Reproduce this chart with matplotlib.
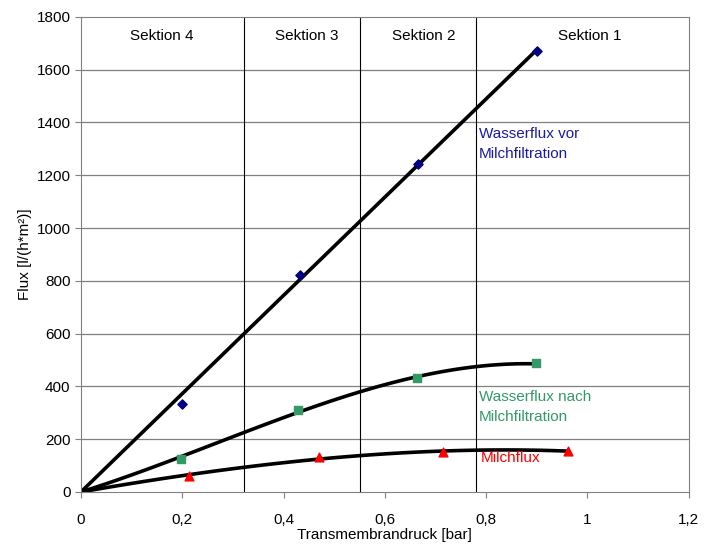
import numpy as np
import matplotlib
matplotlib.use("Agg")
import matplotlib.pyplot as plt

plt.rcParams['font.family'] = ['Liberation Sans', 'DejaVu Sans']

# Messwerte
tmp_vor = [0.199, 0.432, 0.665, 0.900]
flux_vor = [335, 822, 1243, 1671]
tmp_nach = [0.197, 0.428, 0.663, 0.898]
flux_nach = [126, 311, 430, 487]
tmp_milch = [0.213, 0.470, 0.715, 0.961]
flux_milch = [60, 132, 150, 156]

sektionen = ['Sektion 4', 'Sektion 3', 'Sektion 2', 'Sektion 1']
sektion_grenzen = [0.321, 0.551, 0.781]
sektion_mitte = [0.16, 0.446, 0.677, 1.005]


def trend(x, y, grad):
    # Trendlinie durch den Ursprung (wie Excel)
    x = np.asarray(x)
    A = np.column_stack([x ** k for k in range(1, grad + 1)])
    c = np.linalg.lstsq(A, np.asarray(y), rcond=None)[0]
    xs = np.linspace(0, x.max(), 100)
    ys = sum(c[k] * xs ** (k + 1) for k in range(grad))
    return xs, ys


fig = plt.figure(figsize=(7.1, 5.46), dpi=100)
ax = fig.add_axes([0.114, 0.099, 0.856, 0.870])

for yv in range(200, 1800, 200):
    ax.axhline(yv, color='#808080', lw=0.9, zorder=1)
for xv in sektion_grenzen:
    ax.axvline(xv, color='black', lw=0.8, zorder=1)

for x, y, g in [(tmp_vor, flux_vor, 1), (tmp_nach, flux_nach, 3), (tmp_milch, flux_milch, 3)]:
    xs, ys = trend(x, y, g)
    ax.plot(xs, ys, color='black', lw=2.6, zorder=2)

ax.scatter(tmp_vor, flux_vor, marker='D', s=22, color='#000080', zorder=3)
ax.scatter(tmp_nach, flux_nach, marker='s', s=30, color='#339966', zorder=3)
ax.scatter(tmp_milch, flux_milch, marker='^', s=40, color='#ff0000', zorder=3)

for name, xm in zip(sektionen, sektion_mitte):
    ax.text(xm, 1728, name, ha='center', va='center', fontsize=11)

ax.text(0.786, 1318, 'Wasserflux vor\nMilchfiltration', color='#1a1aa6',
        fontsize=11, va='center', linespacing=1.5)
ax.text(0.786, 322, 'Wasserflux nach\nMilchfiltration', color='#339966',
        fontsize=11, va='center', linespacing=1.5)
ax.text(0.79, 128, 'Milchflux', color='#ff0000', fontsize=11, va='center')

ax.set_xlim(0, 1.2)
ax.set_ylim(0, 1800)
ax.set_xticks(np.arange(0, 1.21, 0.2))
ax.set_xticklabels(['0', '0,2', '0,4', '0,6', '0,8', '1', '1,2'])
ax.set_yticks(range(0, 1801, 200))
ax.tick_params(direction='out', length=4, labelsize=11, color='#808080')
ax.tick_params(axis='x', pad=11)
for s in ax.spines.values():
    s.set_color('#808080')
ax.set_xlabel('Transmembrandruck [bar]', fontsize=11, labelpad=1)
ax.set_ylabel('Flux [l/(h*m²)]', fontsize=11, labelpad=3)

fig.savefig('out.png', dpi=100)
